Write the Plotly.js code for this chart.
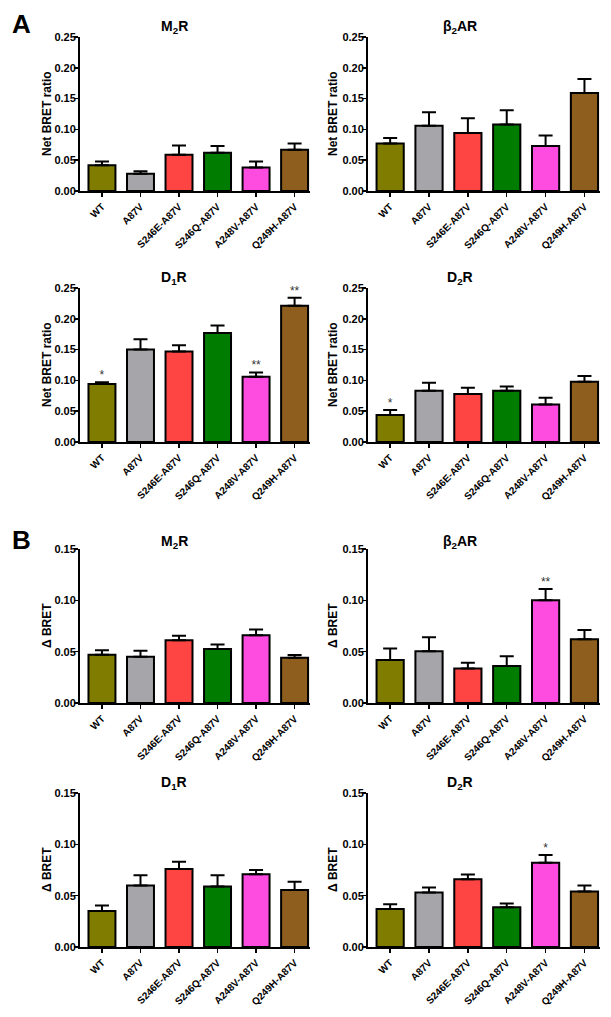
<!DOCTYPE html>
<html>
<head>
<meta charset="utf-8">
<script src="https://cdn.plot.ly/plotly-3.0.1.min.js"></script>
<style>html,body{margin:0;padding:0;background:#fff;}#chart{width:611px;height:1017px;}</style>
</head>
<body>
<div id="chart"></div>
<script>
// ---------- data ----------
var categories = ['WT','A87V','S246E-A87V','S246Q-A87V','A248V-A87V','Q249H-A87V'];
var barColors = ['#807c00','#a6a6aa','#ff4444','#007d00','#ff4ce0','#8e5e1e'];

var A_M2R_mean  = [0.042,0.028,0.059,0.062,0.038,0.067];
var A_M2R_sem   = [0.006,0.004,0.015,0.011,0.010,0.010];
var A_B2AR_mean = [0.077,0.106,0.094,0.108,0.073,0.159];
var A_B2AR_sem  = [0.009,0.022,0.024,0.023,0.017,0.023];
var A_D1R_mean  = [0.094,0.150,0.147,0.177,0.106,0.221];
var A_D1R_sem   = [0.003,0.017,0.010,0.012,0.007,0.013];
var A_D2R_mean  = [0.044,0.083,0.078,0.083,0.061,0.098];
var A_D2R_sem   = [0.008,0.013,0.010,0.007,0.011,0.009];

var B_M2R_mean  = [0.047,0.045,0.061,0.0525,0.066,0.044];
var B_M2R_sem   = [0.0045,0.006,0.0045,0.0045,0.0057,0.0028];
var B_B2AR_mean = [0.042,0.0505,0.0336,0.036,0.100,0.062];
var B_B2AR_sem  = [0.011,0.0135,0.0056,0.0096,0.011,0.009];
var B_D1R_mean  = [0.035,0.060,0.076,0.059,0.0708,0.0554];
var B_D1R_sem   = [0.0055,0.010,0.007,0.011,0.0042,0.0082];
var B_D2R_mean  = [0.037,0.053,0.066,0.0388,0.082,0.054];
var B_D2R_sem   = [0.0047,0.005,0.0047,0.0036,0.0077,0.006];

var A_D1R_sig  = ['*','','','','**','**'];
var A_D2R_sig  = ['*','','','','',''];
var B_B2AR_sig = ['','','','','**',''];
var B_D2R_sig  = ['','','','','*',''];

var panelTitles = ['M<sub>2</sub>R','β<sub>2</sub>AR','D<sub>1</sub>R','D<sub>2</sub>R',
                   'M<sub>2</sub>R','β<sub>2</sub>AR','D<sub>1</sub>R','D<sub>2</sub>R'];
var yTitles = ['Net BRET ratio','Net BRET ratio','Net BRET ratio','Net BRET ratio',
               'Δ BRET','Δ BRET','Δ BRET','Δ BRET'];
var yMax = [0.25,0.25,0.25,0.25,0.15,0.15,0.15,0.15];
var yStep = [0.05,0.05,0.05,0.05,0.05,0.05,0.05,0.05];
var panelLetters = ['A','B'];

var panels = [
  {m:A_M2R_mean, s:A_M2R_sem, sig:null},
  {m:A_B2AR_mean, s:A_B2AR_sem, sig:null},
  {m:A_D1R_mean, s:A_D1R_sem, sig:A_D1R_sig},
  {m:A_D2R_mean, s:A_D2R_sem, sig:A_D2R_sig},
  {m:B_M2R_mean, s:B_M2R_sem, sig:null},
  {m:B_B2AR_mean, s:B_B2AR_sem, sig:B_B2AR_sig},
  {m:B_D1R_mean, s:B_D1R_sem, sig:null},
  {m:B_D2R_mean, s:B_D2R_sem, sig:B_D2R_sig}
];

// ---------- layout geometry (pixels) ----------
var W = 611, H = 1017;
var colX = [[80,310],[368,600]];
var rowY = [[37,191],[288,442],[549,703],[793,947]];
var titleX = [174,460];
var titleY = [27,278,542,783];
var yTitleX = [47,333];
var letterY = [24,540];

var FONT = 'Liberation Sans, Arial, Helvetica, sans-serif';
var traces = [];
var layout = {
  width: W, height: H,
  margin: {l:0,r:0,t:0,b:0},
  paper_bgcolor: '#fff', plot_bgcolor: 'rgba(0,0,0,0)',
  showlegend: false,
  font: {family: FONT, color: '#000'},
  annotations: []
};

panels.forEach(function(p, i){
  var row = Math.floor(i/2), col = i%2;
  var xs = i===0 ? '' : String(i+1);
  var xa = 'x'+xs, ya = 'y'+xs;
  traces.push({
    type:'bar', x: categories, y: p.m, xaxis: xa, yaxis: ya,
    width: 0.7,
    marker: {color: barColors, line: {color:'#000', width: 2}},
    error_y: {type:'data', symmetric:false, array: p.s,
              arrayminus: p.m.map(function(){return 0;}),
              color:'#000', thickness: 2, width: 7},
    hoverinfo:'none'
  });
  if (p.sig) {
    var sx = [], sy = [], st = [];
    p.sig.forEach(function(t,k){
      if (t) { sx.push(categories[k]); sy.push(p.m[k] + p.s[k]); st.push(t); }
    });
    traces.push({
      type:'scatter', mode:'text', x: sx, y: sy, text: st, textposition:'top center',
      textfont: {family: FONT, size: 12, color:'#333'},
      xaxis: xa, yaxis: ya, cliponaxis: false, hoverinfo:'none'
    });
  }
  var yd = [1 - rowY[row][1]/H, 1 - rowY[row][0]/H];
  var xd = [colX[col][0]/W, colX[col][1]/W];
  layout['xaxis'+xs] = {
    domain: xd, anchor: ya, type:'category',
    range: [-0.57, 5.4],
    showline: true, linecolor:'#000', linewidth: 2,
    ticks:'outside', ticklen: 4, tickwidth: 1.5, tickcolor:'#000',
    tickangle: -45,
    tickfont: {family: FONT, size: 10, color:'#000', weight: 'bold'},
    showgrid: false, zeroline: false, fixedrange: true
  };
  layout['yaxis'+xs] = {
    domain: yd, anchor: xa,
    range: [0, yMax[i]], dtick: yStep[i], tick0: 0, tickformat: '.2f',
    showline: true, linecolor:'#000', linewidth: 2,
    ticks:'outside', ticklen: 4, tickwidth: 1.5, tickcolor:'#000',
    ticklabelstandoff: -4,
    tickfont: {family: FONT, size: 11, color:'#000', weight: 'bold'},
    showgrid: false, zeroline: false, fixedrange: true
  };
  layout.annotations.push({
    xref:'paper', yref:'paper', x: titleX[col]/W, y: 1 - titleY[row]/H,
    xanchor:'center', yanchor:'middle', showarrow:false,
    text: '<b>'+panelTitles[i]+'</b>',
    font: {family: FONT, size: 14, color:'#000'}
  });
  layout.annotations.push({
    xref:'paper', yref:'paper', x: yTitleX[col]/W, y: 1 - (rowY[row][0]+rowY[row][1])/2/H,
    xanchor:'center', yanchor:'middle', showarrow:false, textangle: -90,
    text: '<b>'+yTitles[i]+'</b>',
    font: {family: FONT, size: 12, color:'#000'}
  });
});

panelLetters.forEach(function(L, k){
  layout.annotations.push({xref:'paper', yref:'paper', x: 21/W, y: 1-letterY[k]/H,
    xanchor:'center', yanchor:'middle', showarrow:false,
    text:'<b>'+L+'</b>', font:{family: FONT, size: 26, color:'#000'}});
});

Plotly.newPlot('chart', traces, layout, {staticPlot: true, displayModeBar: false});
</script>
</body>
</html>
